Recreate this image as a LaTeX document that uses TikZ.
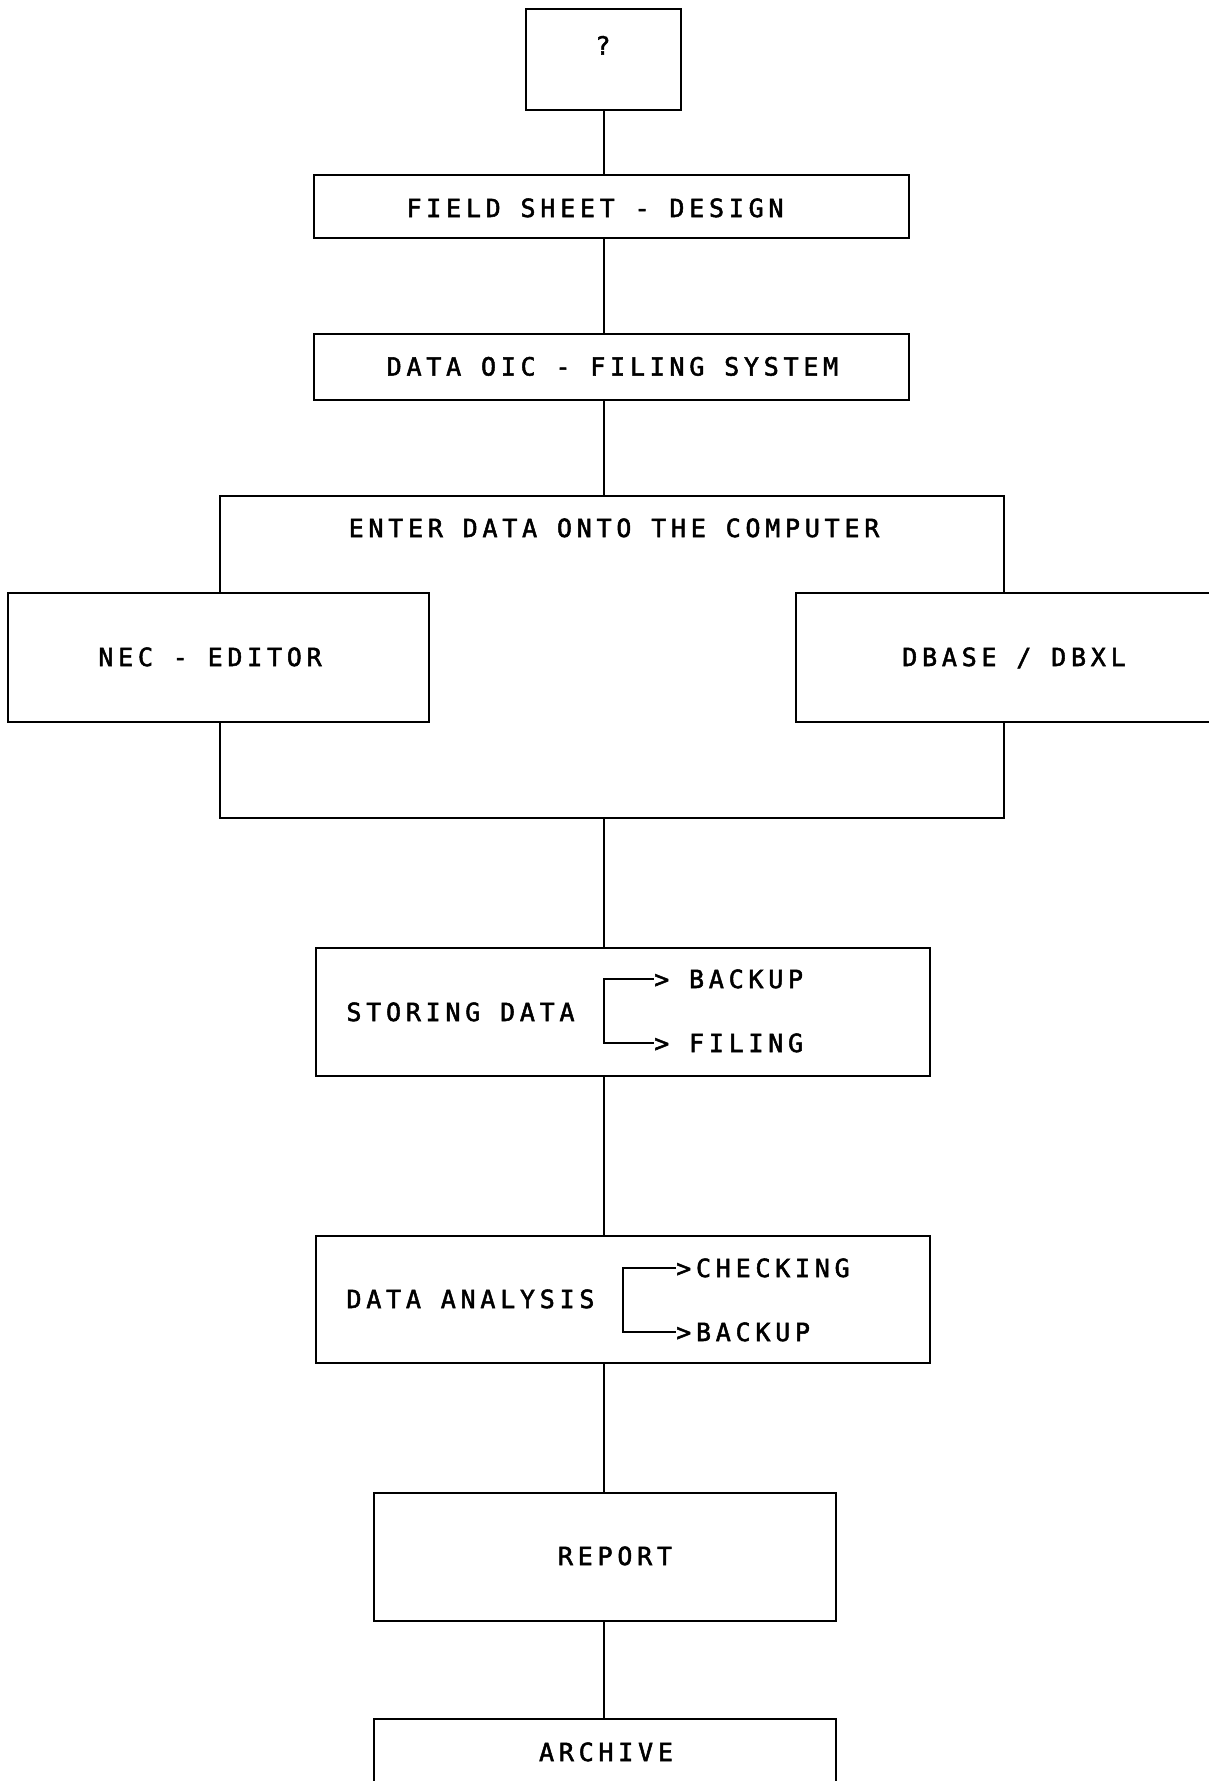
\documentclass[tikz,border=0pt]{standalone}
\usepackage{fontspec}
\usepackage{tikz}

% Carattere da plotter
\newfontfamily\plotfont[LetterSpace=19, FakeBold=2]{DejaVu Sans Mono}

\begin{document}
\begin{tikzpicture}[x=1pt, y=-1pt,
    riquadro/.style={draw, fill=white, line width=2.6pt, inner sep=0pt},
    scritta/.style={font=\plotfont\fontsize{25}{28}\selectfont, inner sep=0pt, text height=18pt, text depth=0pt},
    linea/.style={line width=2.3pt}]

% Foglio
\path[fill=white, use as bounding box] (0,0) rectangle (1208,1781);

% Asse verticale del diagramma
\coordinate (asse) at (604,0);

% Riquadri
\node[riquadro, minimum width=155, minimum height=101] (ignoto) at (603.5,59.5) {};
\node[riquadro, minimum width=595, minimum height=63] (scheda) at (611.5,206.5) {};
\node[riquadro, minimum width=595, minimum height=66] (oic) at (611.5,367) {};
\node[riquadro, minimum width=784, minimum height=322] (inserimento) at (612,657) {};
\node[riquadro, minimum width=421, minimum height=129] (nec) at (218.5,657.5) {};
\node[riquadro, minimum width=504, minimum height=129] (dbase) at (1048,657.5) {};
\node[riquadro, minimum width=614, minimum height=128] (archiviazione) at (623,1012) {};
\node[riquadro, minimum width=614, minimum height=127] (analisi) at (623,1299.5) {};
\node[riquadro, minimum width=462, minimum height=128] (rapporto) at (605,1557) {};
\node[riquadro, minimum width=462, minimum height=128] (archivio) at (605,1783) {};

% Testi
\node[scritta] (tignoto) at (603,45.5) {?};
\node[scritta] (tscheda) at (595,208) {FIELD SHEET - DESIGN};
\node[scritta] (toic) at (612.5,366.5) {DATA OIC - FILING SYSTEM};
\node[scritta] (tinserimento) at (614,528) {ENTER DATA ONTO THE COMPUTER};
\node[scritta] (tnec) at (210,657) {NEC - EDITOR};
\node[scritta] (tdbase) at (1014,657) {DBASE / DBXL};
\node[scritta] (tarchiviazione) at (460.5,1012) {STORING DATA};
\node[scritta] (tanalisi) at (470.5,1299) {DATA ANALYSIS};
\node[scritta] (trapporto) at (615,1556) {REPORT};
\node[scritta] (tarchivio) at (606,1752) {ARCHIVE};

% Diramazioni
\node[scritta, anchor=west] (backup1) at (654,979) {> BACKUP};
\node[scritta, anchor=west] (filing) at (654,1043) {> FILING};
\node[scritta, anchor=west] (checking) at (676,1268) {>CHECKING};
\node[scritta, anchor=west] (backup2) at (676,1332) {>BACKUP};

\draw[linea] (backup1.west) -- ++(-50,0) |- (filing.west);
\draw[linea] (checking.west) -- ++(-53,0) |- (backup2.west);

% Collegamenti
\draw[linea] (asse |- ignoto.south) -- (asse |- scheda.north);
\draw[linea] (asse |- scheda.south) -- (asse |- oic.north);
\draw[linea] (asse |- oic.south) -- (asse |- inserimento.north);
\draw[linea] (asse |- inserimento.south) -- (asse |- archiviazione.north);
\draw[linea] (asse |- archiviazione.south) -- (asse |- analisi.north);
\draw[linea] (asse |- analisi.south) -- (asse |- rapporto.north);
\draw[linea] (asse |- rapporto.south) -- (asse |- archivio.north);

\end{tikzpicture}
\end{document}
